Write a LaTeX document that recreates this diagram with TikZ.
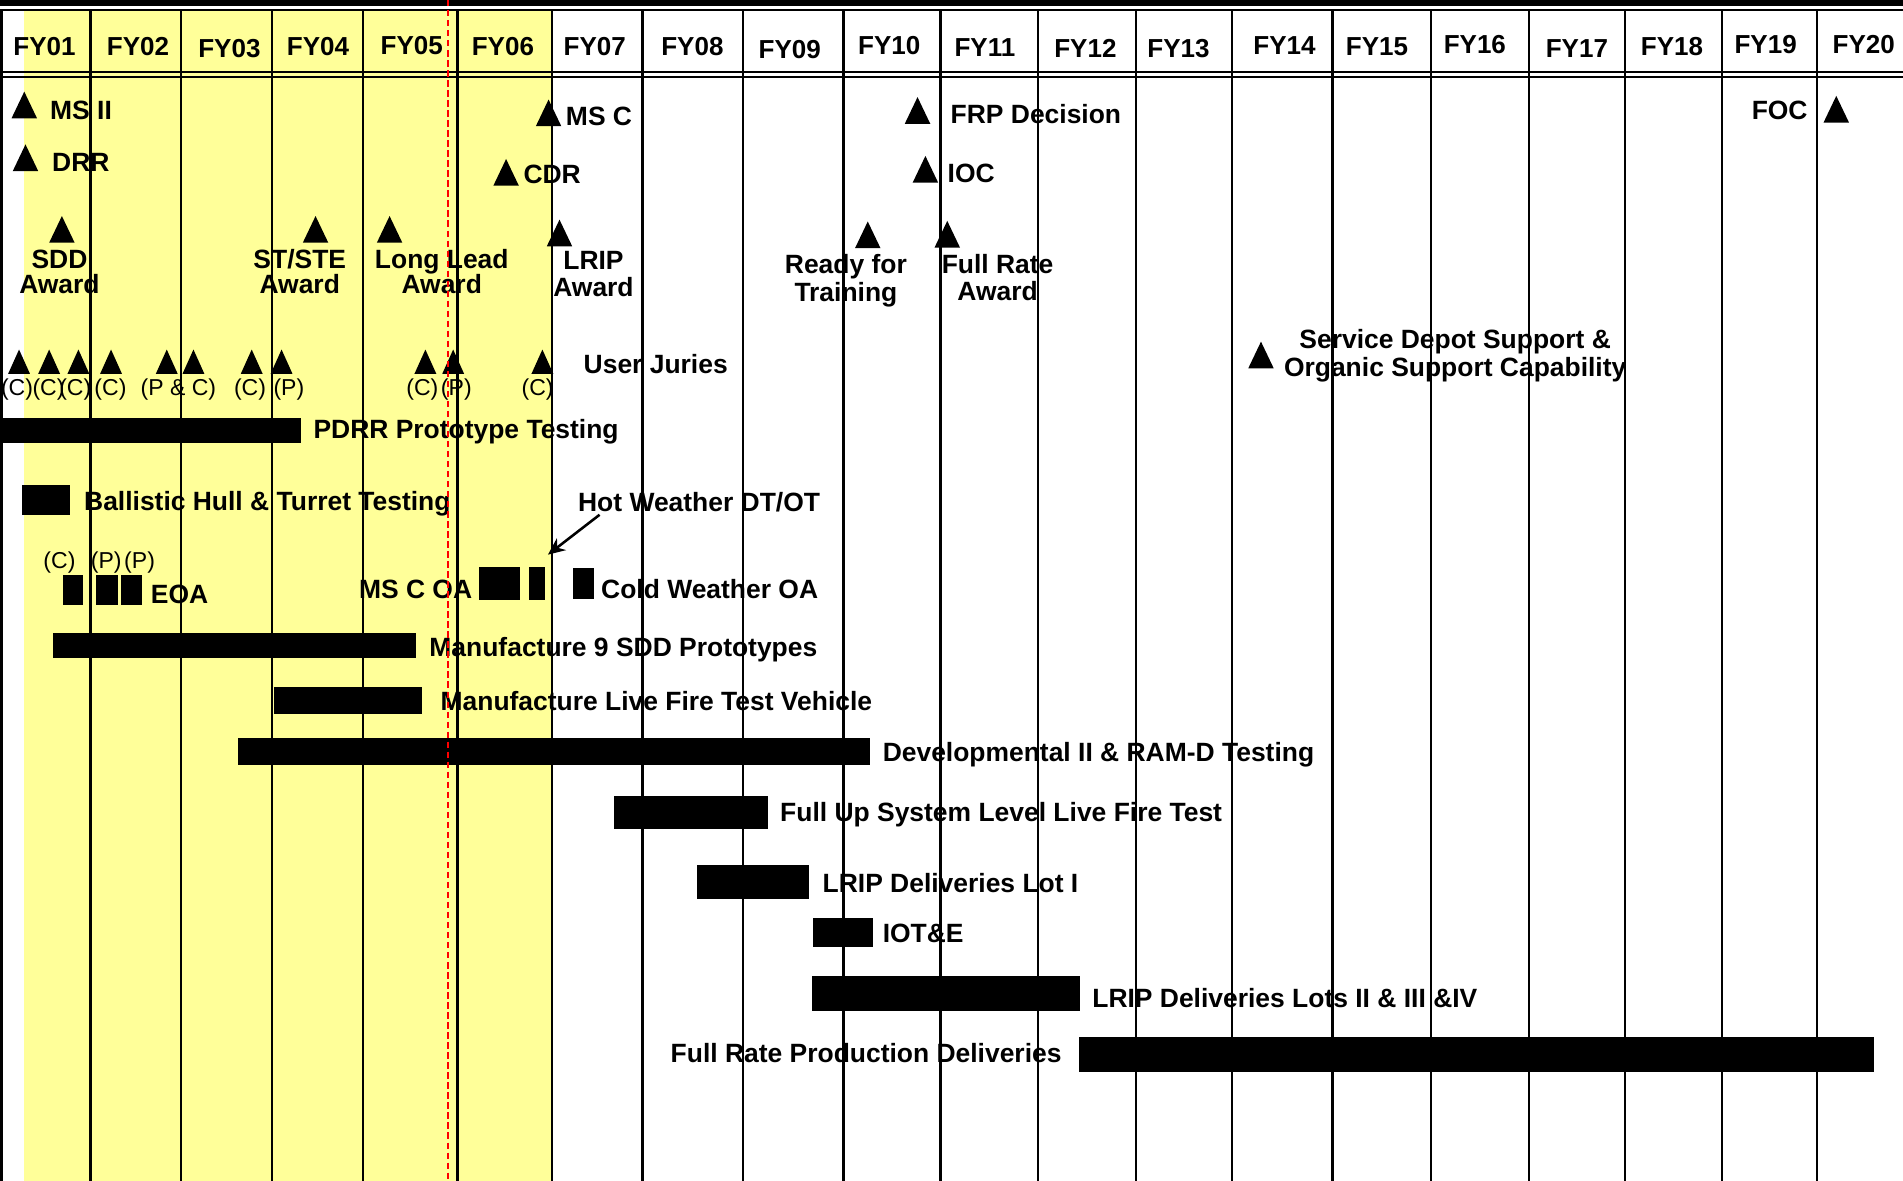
\documentclass[tikz,border=0pt]{standalone}
\usepackage{fontspec}
\setmainfont{Liberation Sans}
\usepackage{xcolor}
\usetikzlibrary{arrows.meta,positioning}
\definecolor{fyyellow}{RGB}{255,255,153}
\setlength{\lineskiplimit}{-5pt}

\begin{document}
\begin{tikzpicture}[x=0.02cm,y=-0.02cm,
    grid/.style={line width=1.1pt},
    bar/.style={fill=black},
    fy/.style={inner sep=0pt,font=\bfseries\fontsize{12.2}{14}\selectfont,text height=8.7pt,text depth=0pt},
    lbl/.style={inner sep=0pt,anchor=west,font=\bfseries\fontsize{12.4}{14}\selectfont,text height=8.9pt,text depth=0pt},
    lbl2/.style={inner sep=0pt,anchor=north,align=center,font=\bfseries\fontsize{12.4}{#1}\selectfont},
    lbl2/.default=11.8pt,
    tag/.style={inner sep=0pt,font=\fontsize{10.8}{12}\selectfont,text height=7.7pt,text depth=0pt},
    mstone/.pic={\fill (-10.5,0) -- (10.5,0) -- (0,-22) -- cycle;},
    jury/.pic={\fill (-9,0) -- (9,0) -- (0,-20) -- cycle;},
    today/.style={red,line width=0.9pt,dash pattern=on 3pt off 1.7pt}]
	\useasboundingbox (0,0) rectangle (1568,973);

	% Shaded years
	\fill[fyyellow] (20,8.2) rectangle (455,973);

	% Header frame
	\fill (0,0) rectangle (1568,4.8);
	\draw[grid] (0,8.2) -- (1568,8.2);
	\draw[grid] (0,59.3) -- (1568,59.3);
	\draw[grid] (0,63.4) -- (1568,63.4);
	\draw[grid] (1.2,8.2) -- (1.2,973);
	\foreach \x in {74.5,149,224,299,377,455,529.5,612,695,775,855,936,1015,1098,1179,1260,1339,1419,1497}
		\draw[grid] (\x,8.2) -- (\x,973);

	% Fiscal years
	\foreach \n/\x/\y in {01/36.7/38.5,02/113.7/38,03/189/40,04/262/38,05/339.3/37.5,06/414.4/38,07/490/38,08/570.5/37.8,09/650.7/40.5,10/732.7/37,11/811.5/39,12/894.3/39.4,13/971/39.4,14/1058.4/37.5,15/1134.6/37.8,16/1215.2/36.3,17/1299.3/39.4,18/1377.6/37.8,19/1454.8/36.5,20/1535.7/36.3}
		\node[fy] (fy\n) at (\x,\y) {FY\n};

	% Milestones
	\pic (ms2) at (20,97.5) {mstone};
	\node[lbl] (ms2lbl) at (41,90.4) {MS II};
	\pic (drr) at (21,141) {mstone};
	\node[lbl] (drrlbl) at (42.7,133.5) {DRR};
	\pic (sdd) at (51,200) {mstone};
	\node[lbl2=11.7pt] (sddlbl) at (49,205.5) {SDD\\Award};
	\pic (stste) at (260,200) {mstone};
	\node[lbl2=11.7pt] (ststelbl) at (247,205.5) {ST/STE\\Award};
	\pic (longlead) at (321,200) {mstone};
	\node[lbl2=11.7pt] (longleadlbl) at (364,205.5) {Long Lead\\Award};
	\pic (msc) at (452,104) {mstone};
	\node[lbl] (msclbl) at (466,95.4) {MS C};
	\pic (cdr) at (417,153) {mstone};
	\node[lbl] (cdrlbl) at (431,143.1) {CDR};
	\pic (lrip) at (461,203) {mstone};
	\node[lbl2=12.7pt] (lriplbl) at (489,206.5) {LRIP\\Award};
	\pic (frp) at (756,102) {mstone};
	\node[lbl] (frplbl) at (783,94.2) {FRP Decision};
	\pic (ioc) at (762.5,150.5) {mstone};
	\node[lbl] (ioclbl) at (780.5,142.8) {IOC};
	\pic (ready) at (715,204.5) {mstone};
	\node[lbl2=13pt] (readylbl) at (697,209.5) {Ready for\\Training};
	\pic (fullrate) at (780.5,204) {mstone};
	\node[lbl2=12.5pt] (fullratelbl) at (822,209.5) {Full Rate\\Award};
	\pic (depot) at (1039,303.5) {mstone};
	\node[lbl2=13.1pt] (depotlbl) at (1199,271.3) {Service Depot Support \&\\Organic Support Capability};
	\pic (foc) at (1513,101) {mstone};
	\node[lbl,anchor=east] (foclbl) at (1489.7,90.5) {FOC};

	% User juries
	\foreach \x in {15.7,40.5,64.6,91.5,137.4,159.4,207.4,232,350.5,373.4,446.9}
		\pic at (\x,308) {jury};
	\foreach \x/\t [count=\i] in {14/{(C)},40/{(C)},62/{(C)},91/{(C)},147/{(P \& C)},206/{(C)},238/{(P)},348/{(C)},376/{(P)},443/{(C)}}
		\node[tag] (jury\i) at (\x,319) {\t};
	\node[lbl] (jurylbl) at (480.6,300) {User Juries};

	% Test events
	\fill[bar] (1.7,344.6) rectangle (247.6,365);
	\node[lbl] (pdrr) at (258,353.6) {PDRR Prototype Testing};
	\fill[bar] (17.8,400) rectangle (57.4,424);
	\node[lbl] (ballistic) at (69,412.6) {Ballistic Hull \& Turret Testing};
	\node[lbl] (hot) at (476,414) {Hot Weather DT/OT};
	\coordinate (hotend) at (451.5,457);
	\draw[line width=1.2pt,-{Stealth[length=8pt,width=7pt]}] ([shift={(18,2)}]hot.south west) -- (hotend);

	\node[tag] (eoa1) at (49,462) {(C)};
	\node[tag] (eoa2) at (87.6,462) {(P)};
	\node[tag] (eoa3) at (115,462) {(P)};
	\fill[bar] (52,474) rectangle (68,498.5);
	\fill[bar] (79,474) rectangle (97,498.5);
	\fill[bar] (100,474) rectangle (117,498.5);
	\node[lbl] (eoa) at (124,489.3) {EOA};

	\node[lbl] (mscoa) at (295.5,485.4) {MS C OA};
	\fill[bar] (395,467) rectangle (428.6,494);
	\fill[bar] (435.5,467) rectangle (449,494);
	\fill[bar] (472,468) rectangle (489.5,493.5);
	\node[lbl] (cold) at (495,485.4) {Cold Weather OA};

	% Build and production
	\fill[bar] (43.7,521.4) rectangle (342.6,542.3);
	\node[lbl] (mfg9) at (353.5,533.5) {Manufacture 9 SDD Prototypes};
	\fill[bar] (225.4,566) rectangle (347.7,588);
	\node[lbl] (livefire) at (362.7,577.4) {Manufacture Live Fire Test Vehicle};
	\fill[bar] (196,608) rectangle (717,630);
	\node[lbl] (dev) at (727,619.5) {Developmental II \& RAM-D Testing};
	\fill[bar] (505.7,655.6) rectangle (633,683);
	\node[lbl] (fullup) at (642.5,668.8) {Full Up System Level Live Fire Test};
	\fill[bar] (574,713) rectangle (666.5,740.7);
	\node[lbl] (lot1) at (677.5,727.6) {LRIP Deliveries Lot I};
	\fill[bar] (670,756.6) rectangle (719,780.5);
	\node[lbl] (iote) at (727,769) {IOT\&E};
	\fill[bar] (669,804) rectangle (890,833);
	\node[lbl] (lots) at (899.7,822) {LRIP Deliveries Lots II \& III \&IV};
	\fill[bar] (889,854.6) rectangle (1544,883.5);
	\node[lbl,anchor=east] (frpd) at (875,867.8) {Full Rate Production Deliveries};

	% Today line
	\draw[today] (369,0) -- (369,973);
\end{tikzpicture}
\end{document}
